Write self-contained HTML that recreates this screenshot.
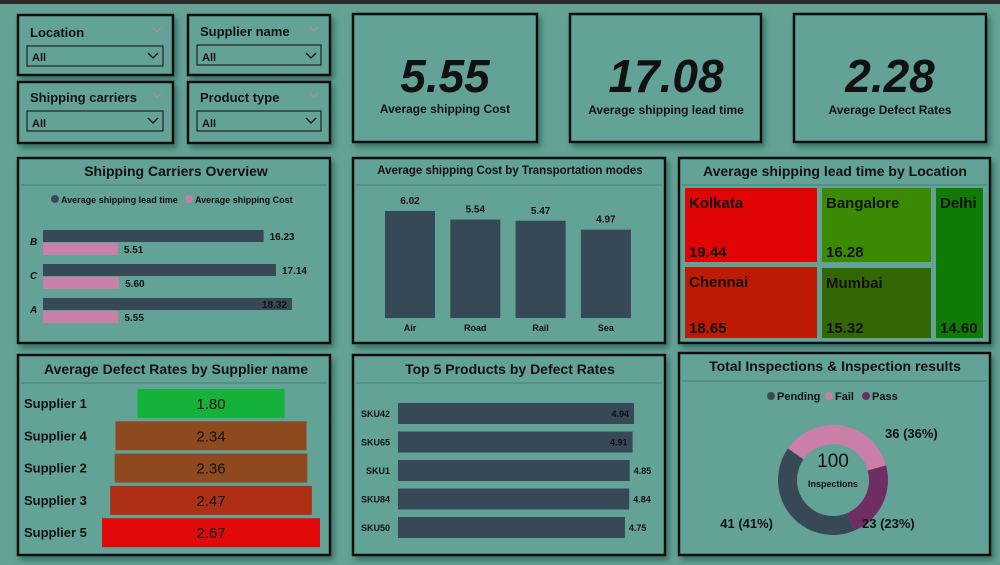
<!DOCTYPE html>
<html><head><meta charset="utf-8">
<style>
html,body{margin:0;padding:0;width:1000px;height:565px;overflow:hidden;background:#64a296;}
svg{display:block;font-family:"Liberation Sans",sans-serif;}
.t{font-weight:bold;fill:#111;}
</style></head>
<body>
<svg id="s" width="1000" height="565" viewBox="0 0 1000 565" xmlns="http://www.w3.org/2000/svg">
<defs><filter id="sh" x="-10%" y="-10%" width="130%" height="130%"><feDropShadow dx="3" dy="4" stdDeviation="3" flood-color="#2c5a50" flood-opacity="0.7"/></filter></defs>
<rect x="0" y="0" width="1000" height="4" fill="#2a2a2a"/>
<g id="panels"></g>
<g>
<text x="30" y="37" font-size="13" class="t">Location</text>
<path d="M153 28 l4 4 l4 -4" stroke="#c97fa8" fill="none"/>
<rect x="27" y="46" width="136" height="20" fill="none" stroke="#222" stroke-width="1.2"/>
<text x="32" y="61" font-size="11" class="t">All</text><path d="M148 53 l5 5 l5 -5" stroke="#111" fill="none" stroke-width="1.3"/>
</g>
<g>
<text x="200" y="36" font-size="13" class="t">Supplier name</text>
<path d="M310 27 l4 4 l4 -4" stroke="#c97fa8" fill="none"/>
<rect x="197" y="45" width="124" height="20" fill="none" stroke="#222" stroke-width="1.2"/>
<text x="202" y="61" font-size="11" class="t">All</text><path d="M306 53 l5 5 l5 -5" stroke="#111" fill="none" stroke-width="1.3"/>
</g>
<g>
<text x="30" y="102" font-size="13" class="t">Shipping carriers</text>
<path d="M153 93 l4 4 l4 -4" stroke="#c97fa8" fill="none"/>
<rect x="27" y="111" width="136" height="20" fill="none" stroke="#222" stroke-width="1.2"/>
<text x="32" y="127" font-size="11" class="t">All</text><path d="M148 118 l5 5 l5 -5" stroke="#111" fill="none" stroke-width="1.3"/>
</g>
<g>
<text x="200" y="102" font-size="13" class="t">Product type</text>
<path d="M310 93 l4 4 l4 -4" stroke="#c97fa8" fill="none"/>
<rect x="197" y="111" width="124" height="20" fill="none" stroke="#222" stroke-width="1.2"/>
<text x="202" y="127" font-size="11" class="t">All</text><path d="M306 118 l5 5 l5 -5" stroke="#111" fill="none" stroke-width="1.3"/>
</g>
<text x="445" y="92" font-size="46" font-style="italic" class="t" text-anchor="middle">5.55</text>
<text x="445" y="113" font-size="12" class="t" text-anchor="middle">Average shipping Cost</text>
<text x="666" y="92" font-size="46" font-style="italic" class="t" text-anchor="middle">17.08</text>
<text x="666" y="114" font-size="12" class="t" text-anchor="middle">Average shipping lead time</text>
<text x="890" y="92" font-size="46" font-style="italic" class="t" text-anchor="middle">2.28</text>
<text x="890" y="114" font-size="12" class="t" text-anchor="middle">Average Defect Rates</text>
<text x="176" y="176" font-size="14" class="t" text-anchor="middle">Shipping Carriers Overview</text>
<text x="510" y="174" font-size="11.5" class="t" text-anchor="middle">Average shipping Cost by Transportation modes</text>
<text x="835" y="176" font-size="14" class="t" text-anchor="middle">Average shipping lead time by Location</text>
<text x="176" y="374" font-size="14" class="t" text-anchor="middle">Average Defect Rates by Supplier name</text>
<text x="510" y="374" font-size="14" class="t" text-anchor="middle">Top 5 Products by Defect Rates</text>
<text x="835" y="371" font-size="14" class="t" text-anchor="middle">Total Inspections &amp; Inspection results</text>
<g>
<circle cx="55" cy="199" r="4" fill="#374957"/><text x="61" y="203" font-size="9" class="t">Average shipping lead time</text>
<circle cx="189" cy="199" r="4" fill="#c97fa8"/><text x="195" y="203" font-size="9" class="t">Average shipping Cost</text>
</g>
<g>
<circle cx="771" cy="396" r="4" fill="#374957"/><text x="777" y="400" font-size="11" class="t">Pending</text>
<circle cx="829" cy="396" r="4" fill="#c97fa8"/><text x="835" y="400" font-size="11" class="t">Fail</text>
<circle cx="866" cy="396" r="4" fill="#6e2e64"/><text x="872" y="400" font-size="11" class="t">Pass</text>
</g>
<g id="charts"></g>
</svg>
<script>
const NS="http://www.w3.org/2000/svg";
function mk(parent,tag,attrs,txt){const e=document.createElementNS(NS,tag);for(const k in attrs)e.setAttribute(k,attrs[k]);if(txt!==undefined)e.textContent=txt;parent.appendChild(e);return e;}
const P=document.getElementById('panels'),C=document.getElementById('charts');

const panelBoxes=[[18,15,155,60],[188,15,142,60],[18,82,155,61],[188,82,142,61],[353,14,184,128],[570,14,191,128],[794,14,192,128],[18,158,312,185],[353,158,312,185],[679,158,311,185],[18,355,312,200],[353,355,312,200],[679,353,311,202]];
const panelNames=['location-panel','supplier-panel','carriers-slicer-panel','product-panel','kpi-cost-card','kpi-lead-card','kpi-defect-card','carriers-chart-panel','transport-chart-panel','location-treemap-panel','supplier-funnel-panel','top5-panel','inspections-panel'];
panelBoxes.forEach((b,i)=>{
  const r=mk(P,'rect',{x:b[0],y:b[1],width:b[2],height:b[3],fill:'#64a296',stroke:'#111','stroke-width':2.5,filter:'url(#sh)'});
  
  
  if(i>=7){const y=b[1]+(i>=10?28:27);mk(P,'line',{x1:b[0]+3,x2:b[0]+b[2]-3,y1:y,y2:y,stroke:'#4f7f76','stroke-width':1});}
});

const carrierCats=['B','C','A'];
const carrierLead=[16.23,17.14,18.32];
const carrierCost=[5.51,5.60,5.55];
const cx0=43,cScale=249/18.32;
function cX(v){return cx0+v*cScale;}
carrierCats.forEach((c,i)=>{
  const y=230+i*34;
  const t=mk(C,'text',{x:30,y:y+15,'font-size':10,'font-style':'italic',class:'t'},c);
  
  const b1=mk(C,'rect',{x:cx0,y:y,width:cX(carrierLead[i])-cx0,height:12,fill:'#374957'});
  
  const inside=i===2;
  mk(C,'text',{x:inside?cX(carrierLead[i])-5:cX(carrierLead[i])+6,y:y+10,'font-size':10,class:'t','text-anchor':inside?'end':'start'},carrierLead[i].toFixed(2));
  const b2=mk(C,'rect',{x:cx0,y:y+13,width:cX(carrierCost[i])-cx0,height:12,fill:'#c97fa8'});
  
  mk(C,'text',{x:cX(carrierCost[i])+6,y:y+23,'font-size':10,class:'t'},carrierCost[i].toFixed(2));
});

const modes=['Air','Road','Rail','Sea'];
const modeCost=[6.02,5.54,5.47,4.97];
const base=318,mScale=107/6.02;
function mY(v){return base-v*mScale;}
modes.forEach((m,i)=>{
  const x=385+i*65.3;
  const b=mk(C,'rect',{x:x,y:mY(modeCost[i]),width:50,height:base-mY(modeCost[i]),fill:'#374957'});
  
  mk(C,'text',{x:x+25,y:mY(modeCost[i])-7,'font-size':10,class:'t','text-anchor':'middle'},modeCost[i].toFixed(2));
  mk(C,'text',{x:x+25,y:331,'font-size':9,class:'t','text-anchor':'middle'},m);
});

const locs=['Kolkata','Bangalore','Delhi','Chennai','Mumbai'];
const locLead=[19.44,16.28,14.60,18.65,15.32];
const locColor=['#e00404','#3c8a04','#0f7a04','#bd1a03','#336604'];
const tiles=[[685,188,132,74],[822,188,109,74],[936,188,47,150],[685,267,132,71],[822,268,109,70]];
locs.forEach((l,i)=>{
  const t=tiles[i];
  const r=mk(C,'rect',{x:t[0],y:t[1],width:t[2],height:t[3],fill:locColor[i]});
  
  mk(C,'text',{x:t[0]+4,y:t[1]+20,'font-size':15,class:'t'},l);
  mk(C,'text',{x:t[0]+4,y:t[1]+t[3]-5,'font-size':15,class:'t'},locLead[i].toFixed(2));
});

const suppliers=['Supplier 1','Supplier 4','Supplier 2','Supplier 3','Supplier 5'];
const supDefect=[1.80,2.34,2.36,2.47,2.67];
const supColor=['#14b23a','#8e4a1e','#8e4a1e','#ad3015','#e00a0a'];
const fcx=211,fScale=218/2.67;
suppliers.forEach((s,i)=>{
  const y=389+i*32.3,w=supDefect[i]*fScale;
  mk(C,'text',{x:24,y:y+19,'font-size':13,class:'t'},s);
  const r=mk(C,'rect',{x:fcx-w/2,y:y,width:w,height:29,fill:supColor[i]});
  
  mk(C,'text',{x:fcx,y:y+20,'font-size':15,fill:'#111','text-anchor':'middle'},supDefect[i].toFixed(2));
});

const skus=['SKU42','SKU65','SKU1','SKU84','SKU50'];
const skuDefect=[4.94,4.91,4.85,4.84,4.75];
const sx0=398,sScale=236/4.94;
skus.forEach((k,i)=>{
  const y=403+i*28.5,w=skuDefect[i]*sScale;
  mk(C,'text',{x:390,y:y+14,'font-size':9,class:'t','text-anchor':'end'},k);
  const r=mk(C,'rect',{x:sx0,y:y,width:w,height:21,fill:'#374957'});
  
  const inside=i<2;
  mk(C,'text',{x:inside?sx0+w-5:sx0+w+4,y:y+14,'font-size':9,class:'t','text-anchor':inside?'end':'start'},skuDefect[i].toFixed(2));
});

const inspCats=['Fail','Pass','Pending'];
const inspVals=[36,23,41];
const inspColor=['#c97fa8','#6e2e64','#374957'];
const dcx=833,dcy=480,R=55,r0=36;
const total=inspVals.reduce((a,b)=>a+b,0);
let ang=-145*Math.PI/180;
inspVals.forEach((v,i)=>{
  const a2=ang+v/total*2*Math.PI,large=(a2-ang)>Math.PI?1:0;
  const p=(rr,a)=>[dcx+rr*Math.cos(a),dcy+rr*Math.sin(a)];
  const [x1,y1]=p(R,ang),[x2,y2]=p(R,a2),[x3,y3]=p(r0,a2),[x4,y4]=p(r0,ang);
  const s=mk(C,'path',{d:`M${x1} ${y1} A${R} ${R} 0 ${large} 1 ${x2} ${y2} L${x3} ${y3} A${r0} ${r0} 0 ${large} 0 ${x4} ${y4}Z`,fill:inspColor[i]});
  
  ang=a2;
});
const lbl=[[885,438,'start'],[862,528,'start'],[773,528,'end']];
inspVals.forEach((v,i)=>{
  mk(C,'text',{x:lbl[i][0],y:lbl[i][1],'font-size':13,class:'t','text-anchor':lbl[i][2]},v+' ('+Math.round(v/total*100)+'%)');
});
mk(C,'text',{x:dcx,y:467,'font-size':19,fill:'#111','text-anchor':'middle'},String(total));
mk(C,'text',{x:dcx,y:487,'font-size':9,class:'t','text-anchor':'middle'},'Inspections');
</script>
</body></html>
